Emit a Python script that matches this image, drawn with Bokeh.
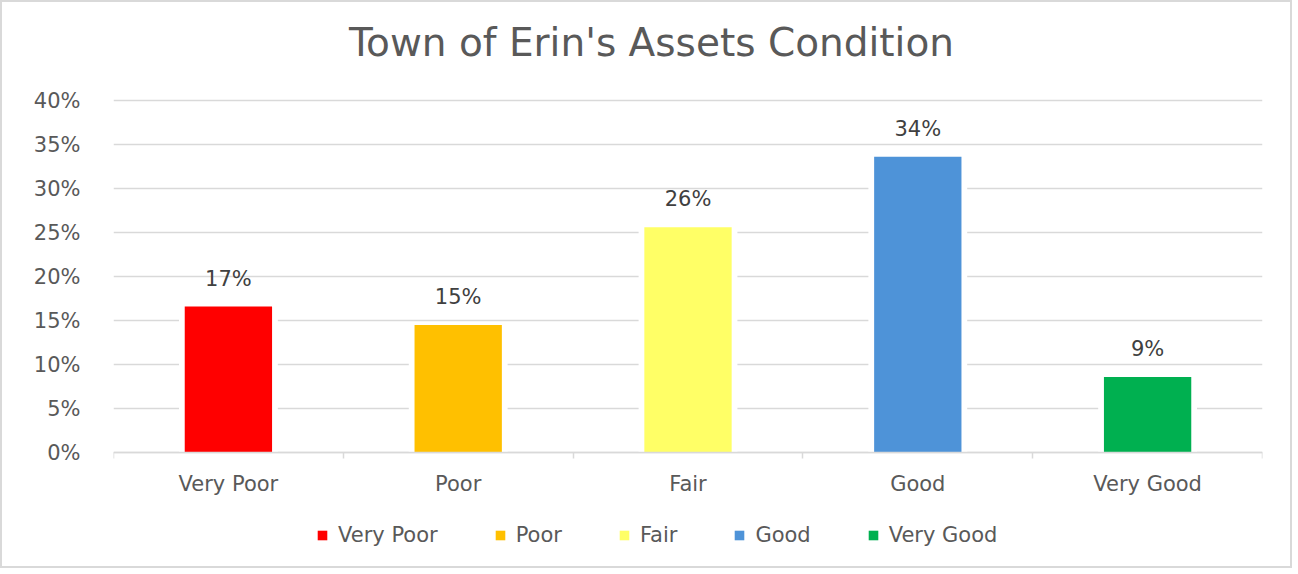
from bokeh.plotting import figure
from bokeh.models import (Range1d, FixedTicker, ColumnDataSource, PrintfTickFormatter,
                          Legend, LegendItem, Label)
from bokeh.embed import file_html
from bokeh.resources import INLINE
from bokeh.core.properties import value

# ---- data ----
categories = ["Very Poor", "Poor", "Fair", "Good", "Very Good"]
shares = [16.6, 14.5, 25.6, 33.6, 8.6]          # percent
share_labels = ["17%", "15%", "26%", "34%", "9%"]
colors = ["#FF0000", "#FFC000", "#FFFF66", "#4E93D8", "#00B050"]
y_ticks = [0, 5, 10, 15, 20, 25, 30, 35, 40]
title_text = "Town of Erin's Assets Condition"

FONT = "DejaVu Sans"
TXT = "#595959"
GRID = "#D9D9D9"
FS = "21px"

x_centers = [i + 0.5 for i in range(len(categories))]
x_bounds = [i for i in range(len(categories) + 1)]

src = ColumnDataSource(dict(x=x_centers, top=shares, cat=categories,
                            color=colors, lab=share_labels,
                            base=[0] * len(categories)))

# frame covers title and legend area too (so nothing is clipped);
# the category axis is pinned at y = 0
p = figure(width=1292, height=568, output_backend="svg", toolbar_location=None,
           x_range=Range1d(0, len(categories)), y_range=Range1d(-11.8, 50.0),
           min_border_left=111, min_border_right=32, min_border_top=10,
           min_border_bottom=14)
p.title.visible = False
p.styles = {"border": "2px solid #D9D9D9"}
p.outline_line_color = None
p.background_fill_color = "white"
p.border_fill_color = "white"

# grid
p.xgrid.visible = False
p.ygrid.ticker = FixedTicker(ticks=y_ticks)
p.ygrid.grid_line_color = GRID
p.ygrid.grid_line_width = 1.5

# bars (white halo behind to cut gridlines, then coloured bar)
p.vbar(x="x", top="top", bottom=0, width=0.43, source=src,
       fill_color="white", line_color=None)
bars = p.vbar(x="x", top="top", bottom=0, width=0.38, source=src,
              fill_color="color", line_color=None)

# data labels
p.text(x="x", y="top", text="lab", source=src, y_offset=-28,
       text_align="center", text_baseline="alphabetic",
       text_font=value(FONT), text_font_size=FS, text_color="#404040")

# category labels under the axis line
p.text(x="x", y="base", text="cat", source=src, y_offset=31,
       text_align="center", text_baseline="alphabetic",
       text_font=value(FONT), text_font_size=FS, text_color=TXT)

# y axis
ya = p.yaxis[0]
ya.ticker = FixedTicker(ticks=y_ticks)
ya.formatter = PrintfTickFormatter(format="%d%%")
ya.axis_line_color = None
ya.major_tick_line_color = None
ya.minor_tick_line_color = None
ya.major_label_standoff = 27
ya.major_label_text_font = FONT
ya.major_label_text_font_size = FS
ya.major_label_text_color = TXT

# x axis line with category-boundary ticks, pinned at 0
xa = p.xaxis[0]
xa.fixed_location = 0
xa.ticker = FixedTicker(ticks=x_centers, minor_ticks=x_bounds)
xa.major_label_overrides = {x: "" for x in x_centers}
xa.major_label_text_font_size = "1px"
xa.major_label_standoff = 0
xa.axis_line_color = GRID
xa.axis_line_width = 1.5
xa.major_tick_line_color = None
xa.major_tick_out = 0
xa.major_tick_in = 0
xa.minor_tick_line_color = GRID
xa.minor_tick_line_width = 1.5
xa.minor_tick_out = 6
xa.minor_tick_in = 0

# title
p.add_layout(Label(x=2.341, y=46.6, text=title_text,
                   text_align="center", text_baseline="alphabetic",
                   text_font=FONT, text_font_size="39px", text_color=TXT))

# legend at the bottom of the frame
items = [LegendItem(label=c, renderers=[bars], index=i) for i, c in enumerate(categories)]
lg = Legend(items=items, orientation="horizontal", location=(203, 9),
            padding=0, margin=0, spacing=56, glyph_width=12, glyph_height=12,
            label_standoff=10, label_text_font=FONT, label_text_font_size=FS,
            label_text_color=TXT, border_line_color=None, background_fill_alpha=0)
p.add_layout(lg, "center")

open("out.html", "w").write(file_html(p, INLINE))
